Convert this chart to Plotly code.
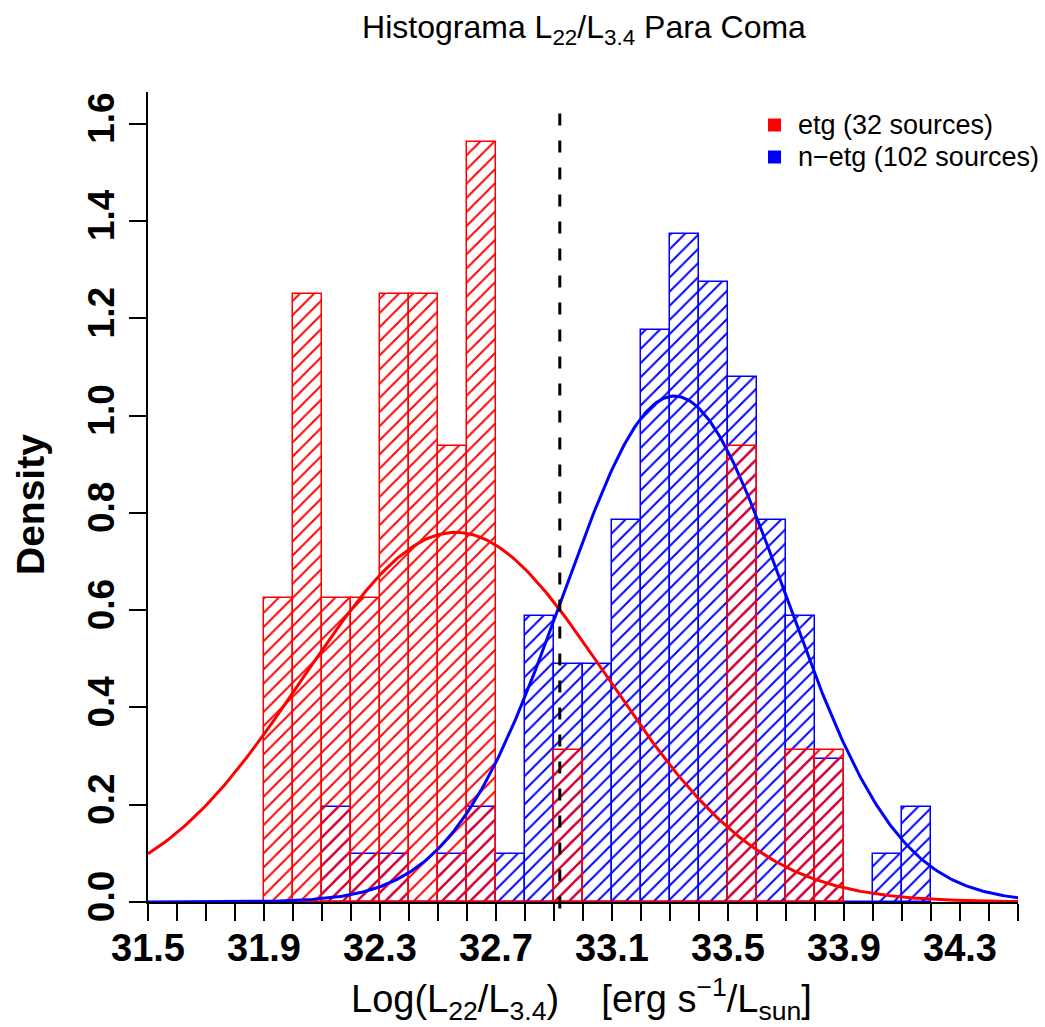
import numpy as np
import plotly.graph_objects as go

# ---------------- data ----------------
bin_width = 0.1

etg_bin_left = [31.9, 32.0, 32.1, 32.2, 32.3, 32.4, 32.5, 32.6, 32.7, 32.8,
                32.9, 33.0, 33.1, 33.2, 33.3, 33.4, 33.5, 33.6, 33.7, 33.8]
etg_counts = [2, 4, 2, 2, 4, 4, 3, 5, 0, 0,
              1, 0, 0, 0, 0, 0, 3, 0, 1, 1]
etg_n = 32

netg_bin_left = [32.1, 32.2, 32.3, 32.4, 32.5, 32.6, 32.7, 32.8, 32.9, 33.0,
                 33.1, 33.2, 33.3, 33.4, 33.5, 33.6, 33.7, 33.8, 33.9, 34.0, 34.1]
netg_counts = [2, 1, 1, 0, 1, 2, 1, 6, 5, 5,
               8, 12, 14, 13, 11, 8, 6, 3, 0, 1, 2]
netg_n = 102

# fitted normal curves (mean, sd)
etg_mean, etg_sd = 32.56, 0.525
netg_mean, netg_sd = 33.315, 0.3836

cut_value = 32.92

x_tick_labels = ["31.5", "31.9", "32.3", "32.7", "33.1", "33.5", "33.9", "34.3"]
y_tick_labels = ["0.0", "0.2", "0.4", "0.6", "0.8", "1.0", "1.2", "1.4", "1.6"]

legend_labels = ["etg (32 sources)", "n\u2212etg (102 sources)"]
# ----------------------------------------------------------------

FONT = "Liberation Sans, Arial, Helvetica, sans-serif"

def centers(lefts):
    return [l + bin_width / 2 for l in lefts]

def density(counts, n):
    return [c / (n * bin_width) for c in counts]

fig = go.Figure()

fig.add_trace(go.Bar(
    x=centers(netg_bin_left), y=density(netg_counts, netg_n), width=bin_width,
    marker=dict(color="rgba(0,0,0,0)",
                line=dict(color="blue", width=1.5),
                pattern=dict(shape="/", fgcolor="blue", bgcolor="rgba(0,0,0,0)",
                             size=10, solidity=0.2, fillmode="replace")),
    showlegend=False, hoverinfo="skip"))

fig.add_trace(go.Bar(
    x=centers(etg_bin_left), y=density(etg_counts, etg_n), width=bin_width,
    marker=dict(color="rgba(0,0,0,0)",
                line=dict(color="red", width=1.5),
                pattern=dict(shape="/", fgcolor="red", bgcolor="rgba(0,0,0,0)",
                             size=10, solidity=0.2, fillmode="replace")),
    showlegend=False, hoverinfo="skip"))

xs = np.linspace(31.5, 34.5, 400)

def dnorm(x, m, s):
    return np.exp(-0.5 * ((x - m) / s) ** 2) / (s * np.sqrt(2 * np.pi))

fig.add_trace(go.Scatter(x=xs, y=dnorm(xs, etg_mean, etg_sd), mode="lines",
                         line=dict(color="red", width=3), showlegend=False,
                         hoverinfo="skip", cliponaxis=False))
fig.add_trace(go.Scatter(x=xs, y=dnorm(xs, netg_mean, netg_sd), mode="lines",
                         line=dict(color="blue", width=3), showlegend=False,
                         hoverinfo="skip", cliponaxis=False))

# dashed vertical line
fig.add_shape(type="line", xref="x", yref="paper", x0=cut_value, x1=cut_value,
              y0=-0.008, y1=0.99, line=dict(color="black", width=3, dash="12px,15px"))

# legend (manual)
plot_w, plot_h = 870, 810
leg_colors = ["red", "blue"]
leg_y_px = [125, 157]
for lab, col, ypx in zip(legend_labels, leg_colors, leg_y_px):
    yc = (902 - ypx) / plot_h
    fig.add_shape(type="rect", xref="paper", yref="paper",
                  x0=(768 - 148) / plot_w, x1=(781 - 148) / plot_w,
                  y0=yc - 6.5 / plot_h, y1=yc + 6.5 / plot_h,
                  fillcolor=col, line=dict(width=0))
    fig.add_annotation(xref="paper", yref="paper", x=(796 - 148) / plot_w, y=yc,
                       xanchor="left", yanchor="middle", text=lab, showarrow=False,
                       font=dict(family=FONT, size=27, color="black"))

# axis titles as annotations
fig.add_annotation(xref="paper", yref="paper", x=(581 - 148) / plot_w, y=(902 - 999) / plot_h,
                   xanchor="center", yanchor="middle", showarrow=False,
                   text="Log(L<sub>22</sub>/L<sub>3.4</sub>)    [erg s<sup>\u22121</sup>/L<sub>sun</sub>]",
                   font=dict(family=FONT, size=38, color="black"))
fig.add_annotation(xref="paper", yref="paper", x=(30 - 148) / plot_w, y=(902 - 504) / plot_h,
                   xanchor="center", yanchor="middle", showarrow=False, textangle=-90,
                   text="<b>Density</b>",
                   font=dict(family=FONT, size=39, color="black"))

x_tick_vals = [float(t) for t in x_tick_labels]
y_tick_vals = [float(t) for t in y_tick_labels]

fig.update_layout(
    width=1045, height=1027,
    margin=dict(l=148, r=27, t=92, b=125),
    paper_bgcolor="white", plot_bgcolor="white",
    barmode="overlay", bargap=0,
    title=dict(text="Histograma L<sub>22</sub>/L<sub>3.4</sub> Para Coma",
               x=(584) / 1045, xanchor="center", y=1 - 27 / 1027, yanchor="middle",
               font=dict(family=FONT, size=32, color="black")),
    xaxis=dict(range=[31.5, 34.5], showgrid=False, zeroline=False,
               showline=True, linecolor="black", linewidth=1.5,
               tickmode="array", tickvals=x_tick_vals, ticktext=x_tick_labels,
               ticks="outside", ticklen=17, tickwidth=1.5, tickcolor="black",
               minor=dict(dtick=0.1, tick0=31.5, ticks="outside", ticklen=17,
                          tickwidth=1.5, tickcolor="black", showgrid=False),
               tickfont=dict(family=FONT, size=38, color="black", weight="bold")),
    yaxis=dict(range=[0, 1.665], showgrid=False, zeroline=False,
               showline=True, linecolor="black", linewidth=1.5,
               tickmode="array", tickvals=y_tick_vals, ticktext=y_tick_labels,
               ticks="outside", ticklen=17, tickwidth=1.5, tickcolor="black",
               tickangle=-90,
               tickfont=dict(family=FONT, size=37, color="black", weight="bold"),
               ticklabelstandoff=0),
)

try:
    fig.update_xaxes(ticklabelstandoff=-5)
except Exception:
    fig.update_xaxes(ticklabelstandoff=0)

fig.write_html("out.html")
